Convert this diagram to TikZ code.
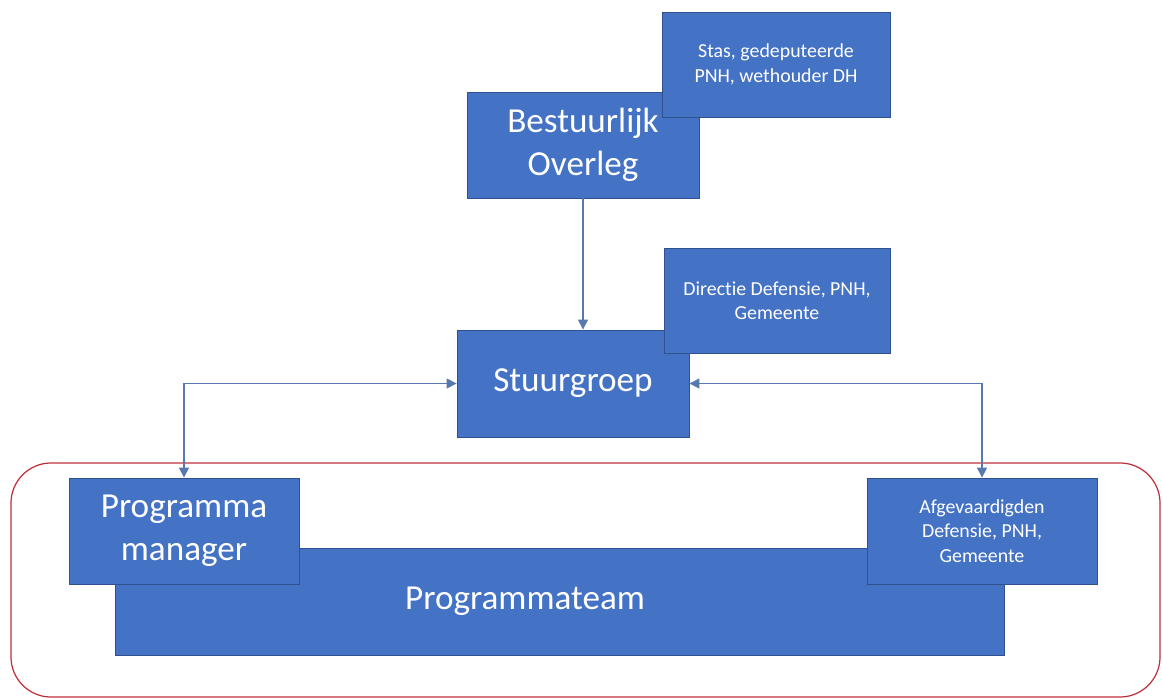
\documentclass[tikz,border=0pt]{standalone}
\usepackage{fontspec}
\setmainfont{Carlito}[Ligatures=NoCommon]
\usetikzlibrary{arrows.meta}

\definecolor{boxblue}{HTML}{4472C4}
\definecolor{boxline}{HTML}{2F528F}
\definecolor{pijlblue}{HTML}{5878B0}
\definecolor{teamred}{HTML}{C0303A}

\begin{document}
\begin{tikzpicture}[
		blok/.style={shape=rectangle, fill=boxblue, draw=boxline, line width=0.5pt, text=white, align=center, inner sep=0pt},
		groot/.style={blok, font=\fontsize{20}{24.4}\selectfont},
		klein/.style={blok, font=\fontsize{11.3}{13.8}\selectfont},
		pijl/.style={draw=pijlblue, line width=0.8pt, >={Triangle[length=2mm,width=2mm]}}
	]
			\useasboundingbox (0,0) rectangle (23.24,13.96);
			
			\draw[teamred, line width=0.7pt, rounded corners=0.8cm] (0.22,0.02) rectangle (23.2,4.7);
			
			\node[groot, minimum width=4.64cm, minimum height=2.12cm] (bestuur) at (11.66,11.06) {Bestuurlijk\\Overleg};
			\node[klein, minimum width=4.56cm, minimum height=2.10cm] (stas) at (15.52,12.67) {Stas, gedeputeerde\\PNH, wethouder DH};
			\node[groot, minimum width=4.64cm, minimum height=2.14cm] (stuur) at (11.46,6.29) {Stuurgroep};
			\node[klein, minimum width=4.52cm, minimum height=2.10cm] (directie) at (15.54,7.95) {Directie Defensie, PNH,\\Gemeente};
			\node[groot, minimum width=17.78cm, minimum height=2.14cm] (team) at (11.19,1.93) {};
			\node[groot, fill=none, draw=none] (teamtxt) at (10.5,1.93) {Programmateam};
			\node[groot, minimum width=4.6cm, minimum height=2.12cm] (pm) at (3.68,3.34) {Programma\\manager};
			\node[klein, minimum width=4.6cm, minimum height=2.12cm] (afg) at (19.64,3.34) {Afgevaardigden\\Defensie, PNH,\\Gemeente};
			
			\draw [pijl, ->] (bestuur.south) -- (bestuur.south |- stuur.north);
			\draw [pijl, <->] (stuur.west) -| (pm.north);
			\draw [pijl, <->] (stuur.east) -| (afg.north);
		\end{tikzpicture}
\end{document}
